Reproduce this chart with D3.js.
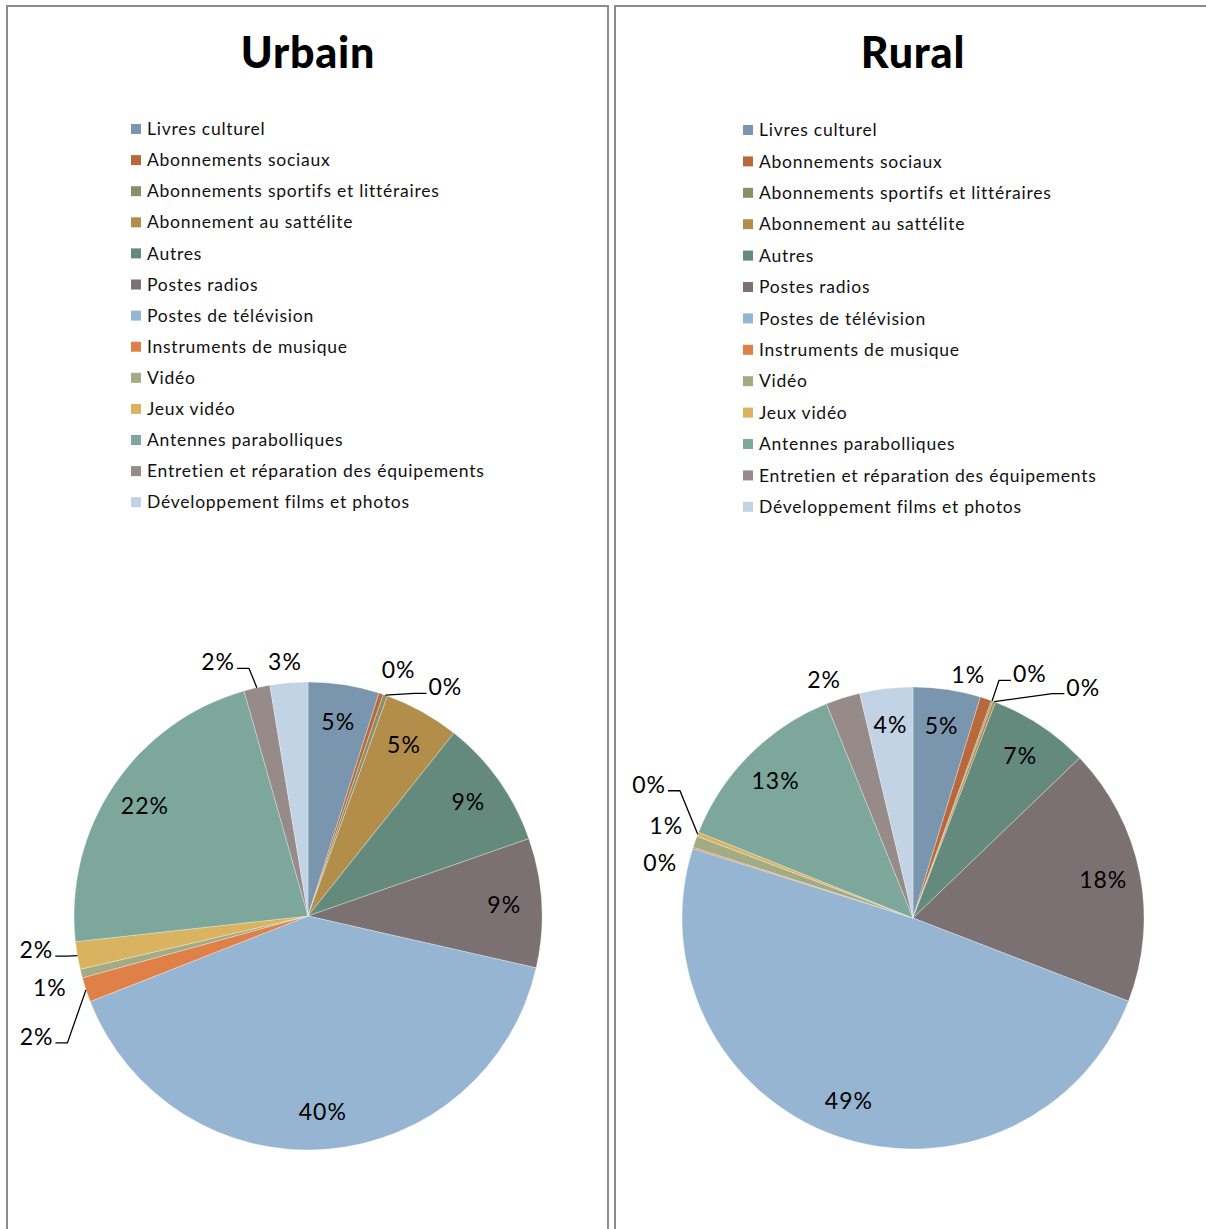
<!DOCTYPE html>
<html lang="fr">
<head>
    <meta charset="UTF-8">
    <title>Urbain / Rural</title>
    <script src="https://d3js.org/d3.v7.min.js"></script>
    <style>
        body { margin: 0; background: #fff; }
        svg { display: block; }
        .title { font-family: Lato, sans-serif; font-weight: 900; font-size: 43px; letter-spacing: 0.8px; }
        .legend_text { font-family: Lato, sans-serif; font-size: 17.5px; fill: #111; letter-spacing: 0.75px; }
        .pct { font-family: Lato, sans-serif; font-size: 23px; fill: #000; letter-spacing: 1px; }
    </style>
</head>
<body>
    <svg width="1206" height="1229"></svg>

    <script>
        const categories = [
            "Livres culturel", "Abonnements sociaux", "Abonnements sportifs et littéraires",
            "Abonnement au sattélite", "Autres", "Postes radios", "Postes de télévision",
            "Instruments de musique", "Vidéo", "Jeux vidéo", "Antennes parabolliques",
            "Entretien et réparation des équipements", "Développement films et photos"
        ];
        const colors = [
            "#7A96AE", "#B8683A", "#8A8F6A", "#B38E4A", "#648A7E", "#7B7172", "#95B5D3",
            "#DF8048", "#A3AB84", "#D9B35F", "#7CA79A", "#978B8A", "#C1D3E4"
        ];

        // values in %
        const urbainValues = [4.9, 0.3, 0.3, 5.2, 8.9, 8.9, 40.4, 1.7, 0.6, 1.9, 22.3, 1.8, 2.6];
        const ruralValues = [4.7, 0.8, 0.1, 0.2, 7.0, 18.0, 48.9, 0.1, 0.8, 0.3, 12.8, 2.4, 3.7];

        // label placement: null = inside, else [angle shift deg, radius factor, leader]
        const urbainLabels = [null, [2, 1.12, 0], [11.7, 1.14, 1], null, null, null, null,
            [-5.6, 1.27, 1], [-1.3, 1.145, 0], [2.6, 1.17, 1], null, [-6.9, 1.15, 1], [-0.5, 1.09, 0]];
        const ruralLabels = [null, [-5.6, 1.08, 0], [5.6, 1.17, 1], [15.9, 1.24, 1], null, null, null,
            [-5.4, 1.12, 0], [1.1, 1.14, 0], [5.5, 1.28, 1], null, [-2.8, 1.10, 0], null];

        const panels = [
            { title: "Urbain", values: urbainValues, labels: urbainLabels, x0: 7, x1: 608,
              cx: 308, cy: 916, r: 234, legX: 131, legY: 129, legStep: 31.1 },
            { title: "Rural", values: ruralValues, labels: ruralLabels, x0: 615, x1: 1240,
              cx: 913, cy: 918, r: 231, legX: 743, legY: 130, legStep: 31.4 }
        ];

        const svg = d3.select("svg");
        const pct = d3.format(".0%");

        panels.forEach(function (p) {
            const g = svg.append("g");

            g.append("rect")
                .attr("x", p.x0).attr("y", 6)
                .attr("width", p.x1 - p.x0).attr("height", 1300)
                .attr("fill", "none").attr("stroke", "#8c8c8c").attr("stroke-width", 2);

            g.append("text").attr("class", "title")
                .attr("x", p.cx).attr("y", 68)
                .attr("text-anchor", "middle")
                .text(p.title);

            // legend
            const leg = g.selectAll(".leg").data(categories).enter().append("g")
                .attr("transform", (d, i) => `translate(${p.legX},${p.legY + i * p.legStep})`);
            leg.append("rect").attr("x", 0).attr("y", -5).attr("width", 10).attr("height", 10)
                .attr("fill", (d, i) => colors[i]);
            leg.append("text").attr("class", "legend_text")
                .attr("x", 16).attr("y", 0).attr("dy", "0.35em")
                .text(d => d);

            // pie
            const total = d3.sum(p.values);
            const arcs = d3.pie().sort(null).value(d => d)(p.values);
            const arc = d3.arc().innerRadius(0).outerRadius(p.r);
            const labelArc = d3.arc().innerRadius(p.r * 0.84).outerRadius(p.r * 0.84);

            const pie = g.append("g").attr("transform", `translate(${p.cx},${p.cy})`);
            pie.selectAll("path").data(arcs).enter().append("path")
                .attr("d", arc)
                .attr("fill", (d, i) => colors[i])
                .attr("stroke", "#ffffff")
                .attr("stroke-opacity", 0.5)
                .attr("stroke-width", 0.6);

            arcs.forEach(function (d, i) {
                const txt = pct(d.value / total);
                const opt = p.labels[i];
                if (!opt) {
                    const c = labelArc.centroid(d);
                    pie.append("text").attr("class", "pct")
                        .attr("x", c[0]).attr("y", c[1]).attr("dy", "0.35em")
                        .attr("text-anchor", "middle").text(txt);
                    return;
                }
                const mid = (d.startAngle + d.endAngle) / 2;
                const a = mid + opt[0] * Math.PI / 180;
                const lx = Math.sin(a) * p.r * opt[1];
                const ly = -Math.cos(a) * p.r * opt[1];
                const t = pie.append("text").attr("class", "pct")
                    .attr("x", lx).attr("y", ly).attr("dy", "0.35em")
                    .attr("text-anchor", "middle").text(txt);
                if (opt[2]) {
                    const w = t.node().getComputedTextLength();
                    const ax = Math.sin(mid) * p.r, ay = -Math.cos(mid) * p.r;
                    const right = lx > ax;
                    const edge = right ? lx - w / 2 - 2 : lx + w / 2 + 2;
                    const elbow = right ? edge - 12 : edge + 12;
                    pie.append("path")
                        .attr("d", d3.line()([[ax, ay], [elbow, ly + 6], [edge, ly + 6]]))
                        .attr("fill", "none").attr("stroke", "#000").attr("stroke-width", 1.3);
                }
            });
        });
    </script>
</body>
</html>
